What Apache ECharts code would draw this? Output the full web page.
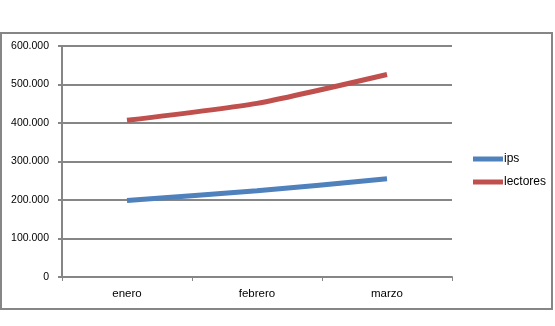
<!DOCTYPE html>
<html><head><meta charset="utf-8">
<script src="https://cdn.jsdelivr.net/npm/echarts@6/dist/echarts.min.js"></script>
<style>html,body{margin:0;padding:0;background:#fff}#c{width:555px;height:326px}</style>
</head><body><div id="c"></div>
<script>
const categories = ['enero', 'febrero', 'marzo'];
const ips = [199000, 224000, 255000];
const lectores = [407000, 451000, 526000];
const yTicks = [0, 100000, 200000, 300000, 400000, 500000, 600000];

const chart = echarts.init(document.getElementById('c'));
const fmt = v => v === 0 ? '0' : String(v).replace(/\B(?=(\d{3})+(?!\d))/g, '.');
chart.setOption({
  animation: false,
  textStyle: { fontFamily: 'Liberation Sans', color: '#000' },
  graphic: [{ type: 'rect', shape: { x: 1, y: 33, width: 551, height: 276 }, style: { fill: 'none', stroke: '#868686', lineWidth: 2 }, z: -1 }],
  grid: { left: 62, right: 103, top: 46, bottom: 49 },
  legend: {
    data: ['ips', 'lectores'], orient: 'vertical', left: 468, top: 148,
    icon: 'rect', itemWidth: 30, itemHeight: 5, itemGap: 11,
    textStyle: { fontSize: 12, color: '#000', fontFamily: 'Liberation Sans', padding: [0, 0, 0, -4] }
  },
  xAxis: {
    type: 'category', data: categories, boundaryGap: true,
    axisLine: { lineStyle: { color: '#868686', width: 2 } },
    axisTick: { show: true, length: 4, lineStyle: { color: '#868686', width: 1 } },
    axisLabel: { fontSize: 11.5, color: '#000', margin: 11 }
  },
  yAxis: {
    type: 'value', min: 0, max: 600000, interval: 100000,
    axisLine: { show: true, lineStyle: { color: '#868686', width: 2 } },
    axisTick: { show: true, length: 4, lineStyle: { color: '#868686', width: 2 } },
    splitLine: { lineStyle: { color: '#868686', width: 2 } },
    axisLabel: { fontSize: 10.5, color: '#000', margin: 13, formatter: v => yTicks.includes(v) ? fmt(v) : '' }
  },
  series: [
    { name: 'ips', type: 'line', data: ips, symbol: 'none', smooth: 0.2, lineStyle: { color: '#4F81BD', width: 5 }, itemStyle: { color: '#4F81BD' } },
    { name: 'lectores', type: 'line', data: lectores, symbol: 'none', smooth: 0.2, lineStyle: { color: '#C0504D', width: 5 }, itemStyle: { color: '#C0504D' } }
  ]
});
</script></body></html>
